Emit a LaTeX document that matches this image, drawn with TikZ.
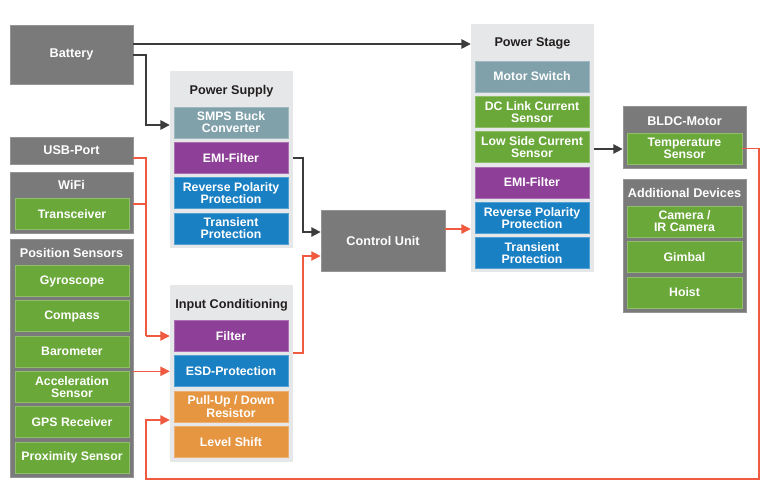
\documentclass[tikz,border=0pt]{standalone}
\usepackage{fontspec}
\setsansfont{Liberation Sans}
\usepackage{xcolor}
\usetikzlibrary{arrows.meta}

\definecolor{boxgray}{HTML}{7A7A7A}
\definecolor{panelgray}{HTML}{E6E7E8}
\definecolor{steelgray}{HTML}{80A0AA}
\definecolor{emipurple}{HTML}{8E3F97}
\definecolor{protblue}{HTML}{1A80C4}
\definecolor{sensgreen}{HTML}{6AA83A}
\definecolor{condorange}{HTML}{E69541}
\definecolor{sigred}{HTML}{F05A40}
\definecolor{powline}{HTML}{3C3C3C}
\definecolor{titleblack}{HTML}{231F20}

\begin{document}
\begin{tikzpicture}[x=0.03cm, y=-0.03cm,
    every node/.style={font=\sffamily\bfseries},
    outerbox/.style={draw=boxgray!80!white, fill=boxgray, minimum width=3.69cm, line width=0.6pt, inner sep=0pt},
    panel/.style={fill=panelgray, minimum width=3.69cm, inner sep=0pt},
    item/.style={draw=#1!75!white, fill=#1, text=white, minimum width=3.42cm, minimum height=0.93cm,
        align=center, inner sep=0pt, line width=0.6pt, font=\sffamily\bfseries\fontsize{10.5}{10.3}\selectfont},
    boxtitle/.style={text=white, font=\sffamily\bfseries\fontsize{10.8}{11}\selectfont},
    paneltitle/.style={text=titleblack, font=\sffamily\bfseries\fontsize{10.8}{11}\selectfont},
    powarrow/.style={draw=powline, line width=1.4pt, -{Triangle[length=8pt,width=8pt]}},
    sigline/.style={draw=sigred, line width=1.1pt},
    sigarrow/.style={sigline, -{Triangle[length=8pt,width=8pt]}}]

    \fill[white] (0,0) rectangle (773,490);
    \useasboundingbox (0,0) rectangle (773,490);

    % Left column: sources and sensors
    \node[outerbox, minimum height=1.77cm, boxtitle] (battery) at (71.5,54.5) {Battery};
    \node[outerbox, minimum height=0.81cm, boxtitle] (usb) at (71.5,150.5) {USB-Port};
    \node[outerbox, minimum height=1.83cm] (wifi) at (71.5,202.5) {};
    \node[boxtitle] (wifiT) at (71.5,185) {WiFi};
    \node[item=sensgreen] (transceiver) at (72,214) {Transceiver};

    \node[outerbox, minimum height=7.14cm] (pos) at (71.5,358) {};
    \node[boxtitle] (posT) at (71.5,253) {Position Sensors};
    \node[item=sensgreen] (gyro) at (72,281) {Gyroscope};
    \node[item=sensgreen] (compass) at (72,316.3) {Compass};
    \node[item=sensgreen] (baro) at (72,351.6) {Barometer};
    \node[item=sensgreen] (accel) at (72,386.9) {Acceleration\\Sensor};
    \node[item=sensgreen] (gps) at (72,422.2) {GPS Receiver};
    \node[item=sensgreen] (prox) at (72,457.5) {Proximity Sensor};

    % Power Supply and Input Conditioning
    \node[panel, minimum height=5.31cm] (supply) at (231.5,159.5) {};
    \node[paneltitle] (supplyT) at (231.5,91) {Power Supply};
    \node[item=steelgray] (smps) at (231,122.5) {SMPS Buck\\Converter};
    \node[item=emipurple] (emiA) at (231,157.8) {EMI-Filter};
    \node[item=protblue] (revA) at (231,193.1) {Reverse Polarity\\Protection};
    \node[item=protblue] (transA) at (231,228.4) {Transient\\Protection};

    \node[panel, minimum height=5.31cm] (input) at (231.5,373.5) {};
    \node[paneltitle] (inputT) at (231.5,305) {Input Conditioning};
    \node[item=emipurple] (filter) at (231,336) {Filter};
    \node[item=protblue] (esd) at (231,371.3) {ESD-Protection};
    \node[item=condorange] (pullup) at (231,406.6) {Pull-Up / Down\\Resistor};
    \node[item=condorange] (shift) at (231,441.9) {Level Shift};

    % Control Unit
    \node[outerbox, minimum width=3.72cm, minimum height=1.83cm, boxtitle] (control) at (383,240.5) {Control Unit};

    % Power Stage
    \node[panel, minimum height=7.44cm] (stage) at (532.5,148) {};
    \node[paneltitle] (stageT) at (532.5,43) {Power Stage};
    \node[item=steelgray] (mswitch) at (532,76.5) {Motor Switch};
    \node[item=sensgreen] (dclink) at (532,111.8) {DC Link Current\\Sensor};
    \node[item=sensgreen] (lowside) at (532,147.1) {Low Side Current\\Sensor};
    \node[item=emipurple] (emiB) at (532,182.4) {EMI-Filter};
    \node[item=protblue] (revB) at (532,217.7) {Reverse Polarity\\Protection};
    \node[item=protblue] (transB) at (532,253) {Transient\\Protection};

    % Motor and additional devices
    \node[outerbox, minimum height=1.86cm] (motor) at (684.5,137) {};
    \node[boxtitle] (motorT) at (684.5,121) {BLDC-Motor};
    \node[item=sensgreen, minimum width=3.45cm] (temp) at (684.5,148.5) {Temperature\\Sensor};

    \node[outerbox, minimum height=3.99cm] (addon) at (684.5,245.5) {};
    \node[boxtitle] (addonT) at (684.5,193) {Additional Devices};
    \node[item=sensgreen, minimum width=3.45cm] (camera) at (684.5,221.5) {Camera /\\IR Camera};
    \node[item=sensgreen, minimum width=3.45cm] (gimbal) at (684.5,257) {Gimbal};
    \node[item=sensgreen, minimum width=3.45cm] (hoist) at (684.5,292.5) {Hoist};

    % Bend points
    \coordinate (busL) at (146,0);
    \coordinate (busM) at (303,0);
    \coordinate (loopR) at (759,479);

    % Power paths
    \draw[powarrow] (battery.east |- 0,44) -- (stage.west |- 0,44);
    \draw[powarrow] (battery.east |- 0,55) -| (busL |- 0,125) -- (supply.west |- 0,125);
    \draw[powarrow] (supply.east |- emiA) -| (busM |- 0,232) -- (control.west |- 0,232);
    \draw[powarrow] (stage.east |- 0,149) -- (motor.west |- 0,149);

    % Signal paths
    \draw[sigline] (usb.east |- 0,158) -| (busL |- filter);
    \draw[sigline] (wifi.east |- 0,204) -- (busL |- 0,204);
    \draw[sigarrow] (busL |- filter) -- (input.west |- filter);
    \draw[sigarrow] (pos.east |- esd) -- (input.west |- esd);
    \draw[sigarrow] (temp.east) -| (loopR) -| (busL |- 0,420) -- (input.west |- 0,420);
    \draw[sigarrow] (input.east |- 0,353) -| (busM |- 0,256) -- (control.west |- 0,256);
    \draw[sigarrow] (control.east |- 0,229) -- (stage.west |- 0,229);
\end{tikzpicture}
\end{document}
